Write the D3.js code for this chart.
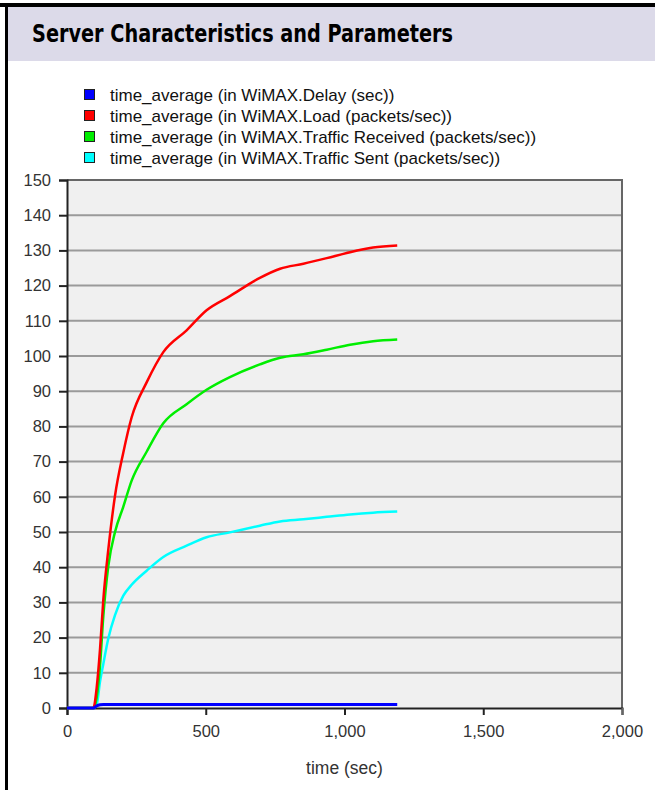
<!DOCTYPE html>
<html><head><meta charset="utf-8">
<script src="https://cdn.jsdelivr.net/npm/d3@7"></script>
<style>
html,body{margin:0;padding:0;background:#fff;}
svg{display:block;}
</style></head>
<body>
<script>
const title = "Server Characteristics and Parameters";
const seriesNames = [
  "time_average (in WiMAX.Delay (sec))",
  "time_average (in WiMAX.Load (packets/sec))",
  "time_average (in WiMAX.Traffic Received (packets/sec))",
  "time_average (in WiMAX.Traffic Sent (packets/sec))"
];
const seriesColors = ["#0000ff", "#ff0000", "#00ee00", "#00ffff"];
const time     = [0, 95, 107, 119, 131, 149, 173, 203, 233, 287, 347, 431, 503, 587, 695, 768, 852, 936, 1020, 1103, 1190];
const delay    = [0, 0, 0.6, 0.9, 1.0, 1.0, 1.0, 1.0, 1.0, 1.0, 1.0, 1.0, 1.0, 1.0, 1.0, 1.0, 1.0, 1.0, 1.0, 1.0, 1.0];
const load     = [0, 0, 5.8, 16.7, 30.9, 45.1, 60.3, 72.6, 82.6, 92.5, 101.1, 107.3, 113.0, 117.0, 122.2, 124.8, 126.2, 127.8, 129.5, 130.8, 131.4];
const received = [0, 0, 3.0, 12.0, 26.2, 40.4, 50.0, 57.2, 64.6, 72.8, 80.9, 86.3, 90.4, 94.0, 97.6, 99.5, 100.5, 101.8, 103.2, 104.2, 104.7];
const sent     = [0, 0, 1.0, 7.5, 12.6, 19.8, 26.4, 31.9, 35.0, 39.0, 42.9, 46.1, 48.5, 49.9, 51.8, 53.0, 53.6, 54.3, 55.0, 55.5, 55.8];
const xTicks = [0, 500, 1000, 1500, 2000];
const yTicks = [0, 10, 20, 30, 40, 50, 60, 70, 80, 90, 100, 110, 120, 130, 140, 150];
const xLabel = "time (sec)";

(function () {
const W = 655, H = 790;
const svg = d3.select("body").append("svg").attr("width", W).attr("height", H);

// frame
svg.append("rect").attr("x", 0).attr("y", 0).attr("width", W).attr("height", H).attr("fill", "#fff");
svg.append("rect").attr("x", 7).attr("y", 7).attr("width", W - 7).attr("height", 54).attr("fill", "#dcdae9");
svg.append("rect").attr("x", 0).attr("y", 3).attr("width", W).attr("height", 4).attr("fill", "#000");
svg.append("rect").attr("x", 5).attr("y", 3).attr("width", 3).attr("height", H - 3).attr("fill", "#000");

svg.append("text").attr("x", 32).attr("y", 42)
  .attr("font-family", "'Liberation Sans Narrow','DejaVu Sans Condensed','Arial Narrow',sans-serif")
  .attr("font-weight", "bold").attr("font-size", 25).attr("fill", "#000")
  .attr("textLength", 421).attr("lengthAdjust", "spacingAndGlyphs")
  .text(title);

// legend
const lg = svg.append("g").attr("font-family", "Arial, 'Liberation Sans', sans-serif").attr("font-size", 17).attr("fill", "#111");
seriesNames.forEach((n, i) => {
  const yy = 95 + i * 21;
  lg.append("rect").attr("x", 84.5).attr("y", yy - 5.5).attr("width", 10).attr("height", 10)
    .attr("fill", seriesColors[i]).attr("stroke", "#222").attr("stroke-width", 1);
  lg.append("text").attr("x", 110).attr("y", yy + 6).text(n);
});

// plot
const pL = 67, pR = 622, pT = 180, pB = 708;
const x = d3.scaleLinear().domain([0, 2000]).range([pL, pR]);
const y = d3.scaleLinear().domain([0, 150]).range([pB, pT]);

svg.append("rect").attr("x", pL).attr("y", pT).attr("width", pR - pL).attr("height", pB - pT).attr("fill", "#f0f0f0");

// gridlines
svg.append("g").selectAll("line").data(yTicks.slice(1)).join("line")
  .attr("x1", pL).attr("x2", pR).attr("y1", d => y(d)).attr("y2", d => y(d))
  .attr("stroke", "#9a9a9a").attr("stroke-width", 2);

// top & right border
svg.append("path").attr("d", `M${pL},${pT}H${pR}V${pB}`).attr("fill", "none")
  .attr("stroke", "#666").attr("stroke-width", 2);

// axes
const fontAx = "Arial, 'Liberation Sans', sans-serif";
const yAxis = svg.append("g").attr("transform", `translate(${pL},0)`)
  .call(d3.axisLeft(y).tickValues(yTicks).tickSize(8).tickPadding(8).tickFormat(d3.format("d")));
const xAxis = svg.append("g").attr("transform", `translate(0,${pB})`)
  .call(d3.axisBottom(x).tickValues(xTicks).tickSize(7).tickPadding(10).tickFormat(d3.format(",")));
[yAxis, xAxis].forEach(a => {
  a.selectAll("path.domain").attr("stroke", "#222").attr("stroke-width", 2);
  a.selectAll(".tick line").attr("stroke", "#222").attr("stroke-width", 2);
  a.selectAll("text").attr("font-family", fontAx).attr("font-size", 16.5).attr("fill", "#333");
});
xAxis.selectAll(".tick:last-of-type line").attr("stroke", "#666");

svg.append("text").attr("x", (pL + pR) / 2).attr("y", 774).attr("text-anchor", "middle")
  .attr("font-family", fontAx).attr("font-size", 17.5).attr("fill", "#333").text(xLabel);

// lines
const series = [delay, load, received, sent];
const line = d3.line().x(d => x(d[0])).y(d => y(d[1])).curve(d3.curveMonotoneX);
const order = [3, 2, 1, 0];
order.forEach(i => {
  svg.append("path").datum(time.map((t, k) => [t, series[i][k]]))
    .attr("d", line).attr("fill", "none").attr("stroke", seriesColors[i])
    .attr("stroke-width", i === 0 ? 3 : 2.5).attr("stroke-linejoin", "round");
});
})();
</script>
</body></html>
